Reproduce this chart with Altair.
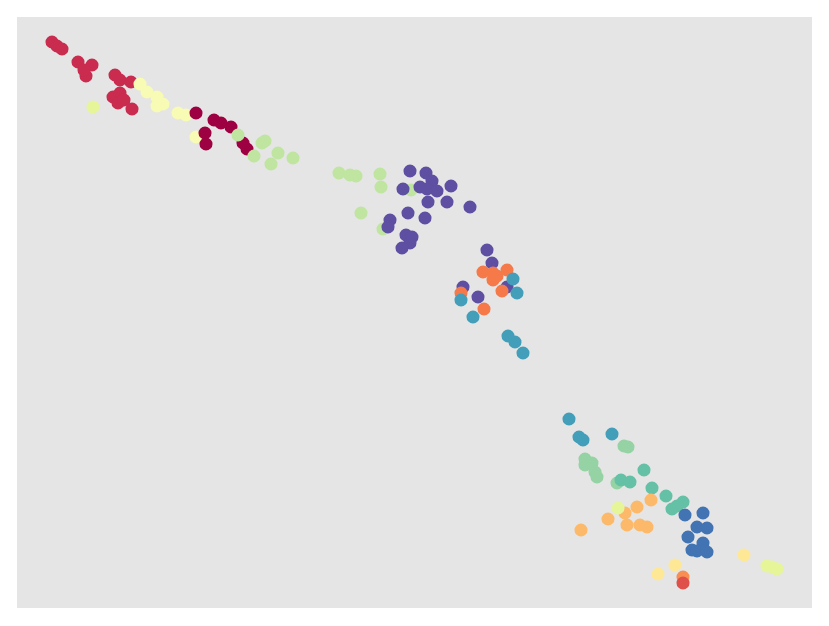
import altair as alt
import pandas as pd

groups = ["crimson", "pale", "maroon", "lightgreen", "purple", "orange", "blueteal",
          "mint", "teal", "lightorange", "yellowgreen", "blue", "yellow", "orange2", "red"]
colors = ["#c92c4f", "#f8fbb4", "#9e0142", "#bfe5a0", "#5e4fa2", "#f67a49", "#439fb9",
          "#95d3a4", "#64c1a5", "#fdb96a", "#e6f598", "#4273b3", "#fee896", "#f98e52", "#e0504a"]

crimson_x = [3.5, 4.0, 4.5, 6.1, 7.5, 6.9, 6.7, 9.8, 10.3, 11.4, 9.6, 10.3, 10.1, 11.5, 10.7]
crimson_y = [56.6, 56.2, 55.9, 54.6, 54.3, 53.2, 53.8, 53.3, 52.8, 52.6, 51.1, 51.5, 50.5, 49.9, 50.8]
pale_x = [12.3, 13.0, 14.0, 14.6, 14.0, 16.1, 16.9, 17.9]
pale_y = [52.4, 51.6, 51.1, 50.4, 50.2, 49.5, 49.3, 47.1]
maroon_x = [17.9, 19.7, 20.4, 21.4, 18.8, 18.9, 22.6, 23.0]
maroon_y = [49.5, 48.8, 48.5, 48.1, 47.5, 46.4, 46.5, 45.9]
lightgreen_x = [22.1, 24.5, 24.8, 23.7, 26.1, 25.4, 27.6, 32.2, 33.3, 33.9, 36.3, 36.4, 34.4, 36.6, 39.4]
lightgreen_y = [47.3, 46.5, 46.7, 45.2, 45.5, 44.4, 45.0, 43.5, 43.3, 43.2, 43.4, 42.1, 39.5, 37.9, 41.8]
purple_x = [39.3, 40.9, 41.5, 38.6, 40.3, 41.0, 42.0, 43.4, 41.1, 43.0, 45.3, 39.1, 40.8, 37.3,
            37.1, 38.9, 39.5, 39.3, 38.5, 47.0, 47.5, 44.6, 46.1, 49.0]
purple_y = [43.7, 43.5, 42.7, 41.9, 42.1, 41.9, 41.7, 42.2, 40.6, 40.6, 40.1, 39.5, 39.0, 38.8,
            38.1, 37.3, 37.1, 36.5, 36.0, 35.8, 34.5, 32.1, 31.1, 32.1]
orange_x = [46.6, 47.6, 47.6, 49.0, 48.0, 48.5, 44.4, 46.7]
orange_y = [33.6, 33.5, 32.8, 33.8, 33.2, 31.7, 31.5, 29.9]
blueteal_x = [49.6, 50.0, 44.4, 45.6, 49.1, 49.8, 50.6, 55.2, 56.2, 56.6, 59.5]
blueteal_y = [32.9, 31.5, 30.8, 29.1, 27.2, 26.6, 25.5, 18.9, 17.1, 16.8, 17.4]
mint_x = [60.7, 61.1, 56.8, 57.5, 56.8, 57.8, 58.0, 60.0]
mint_y = [16.2, 16.1, 14.9, 14.5, 14.3, 13.6, 13.1, 12.5]
teal_x = [60.4, 61.3, 62.7, 63.5, 64.9, 66.6, 65.5, 66.0]
teal_y = [12.8, 12.6, 13.8, 12.0, 11.2, 10.6, 9.9, 10.2]
lightorange_x = [63.4, 62.0, 59.1, 56.4, 60.8, 61.0, 62.3, 63.0]
lightorange_y = [10.8, 10.1, 8.9, 7.8, 9.5, 8.3, 8.3, 8.1]
yellowgreen_x = [7.6, 60.1, 75.0, 75.5, 76.0]
yellowgreen_y = [50.1, 10.0, 4.2, 4.1, 3.9]
blue_x = [66.8, 68.6, 68.0, 69.0, 67.1, 68.6, 67.5, 68.0, 69.0]
blue_y = [9.3, 9.5, 8.1, 8.0, 7.1, 6.5, 5.8, 5.7, 5.6]
yellow_x = [72.7, 65.8, 64.1]
yellow_y = [5.3, 4.3, 3.4]
orange2_x = [66.6]
orange2_y = [3.1]
red_x = [66.6]
red_y = [2.5]

series = {
    "crimson": (crimson_x, crimson_y), "pale": (pale_x, pale_y), "maroon": (maroon_x, maroon_y),
    "lightgreen": (lightgreen_x, lightgreen_y), "purple": (purple_x, purple_y),
    "orange": (orange_x, orange_y), "blueteal": (blueteal_x, blueteal_y),
    "mint": (mint_x, mint_y), "teal": (teal_x, teal_y),
    "lightorange": (lightorange_x, lightorange_y), "yellowgreen": (yellowgreen_x, yellowgreen_y),
    "blue": (blue_x, blue_y), "yellow": (yellow_x, yellow_y),
    "orange2": (orange2_x, orange2_y), "red": (red_x, red_y),
}

rows = []
for g in groups:
    xs, ys = series[g]
    for x, y in zip(xs, ys):
        rows.append({"x": x, "y": y, "group": g})
df = pd.DataFrame(rows)

chart = alt.Chart(df).mark_circle(size=170, opacity=1).encode(
    x=alt.X("x:Q", scale=alt.Scale(domain=[0, 79.5], nice=False, zero=False), axis=None),
    y=alt.Y("y:Q", scale=alt.Scale(domain=[0, 59.1], nice=False, zero=False), axis=None),
    color=alt.Color("group:N", scale=alt.Scale(domain=groups, range=colors), legend=None),
).properties(
    width=795, height=591,
    padding={"left": 9, "top": 9, "right": 9, "bottom": 10},
    background="white",
).configure_view(fill="#e5e5e5", stroke=None)

chart.save("out.html", embed_options={"renderer": "svg", "actions": False})
